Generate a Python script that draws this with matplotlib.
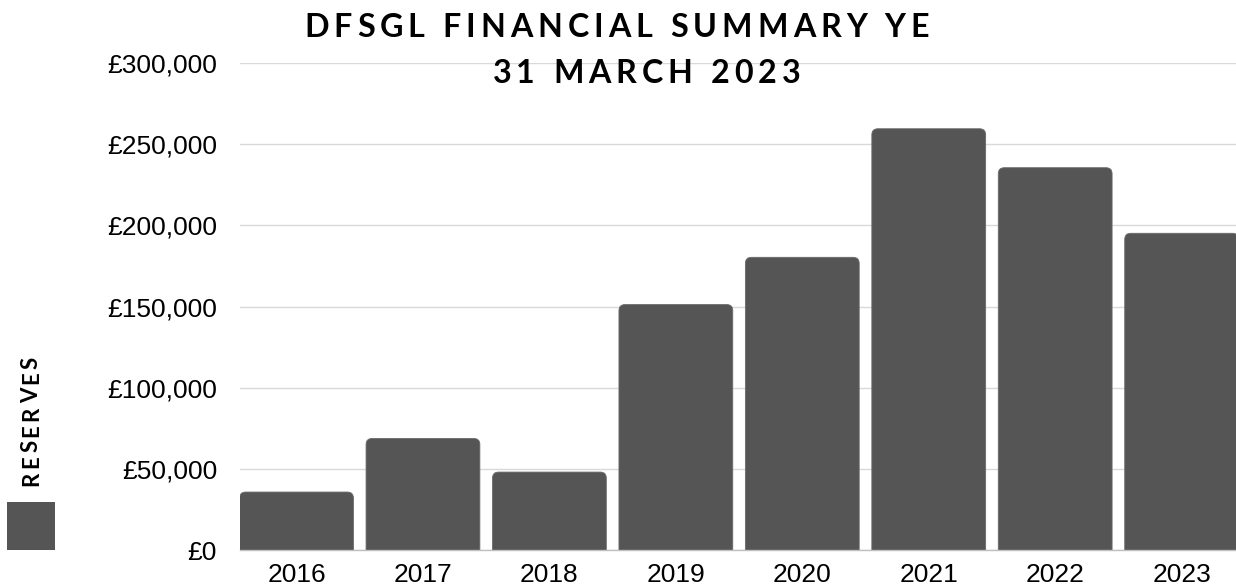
"""
DFSGL financial summary - reserves per year-end, bar chart.
"""

import matplotlib
matplotlib.use('Agg')
import matplotlib.pyplot as plt
from matplotlib.patches import FancyBboxPatch, Rectangle
from matplotlib.font_manager import FontProperties, findfont, get_font
from matplotlib.ticker import FuncFormatter

# data
years = ['2016', '2017', '2018', '2019', '2020', '2021', '2022', '2023']
reserves = [35700, 68700, 48000, 151200, 180300, 259500, 235500, 195100]
y_ticks = [0, 50000, 100000, 150000, 200000, 250000, 300000]

title_lines = ['DFSGL FINANCIAL SUMMARY YE', '31 MARCH 2023']
legend_label = 'RESERVES'

W, H, DPI = 1236, 588, 100
BAR_COLOR = '#555555'
GRID_COLOR = '#d9d9d9'


def spaced_text(fig, s, x, y, size, tracking, rotation=0, color='#000000'):
    """Draw letter-spaced bold Lato text centred on (x, y) pixels (y = baseline,
    measured from the bottom). For rotation=90 the text runs upward."""
    fp = FontProperties(family='Lato', weight='bold', size=size)
    font = get_font(findfont(fp))
    font.set_size(size, DPI)
    advances = [font.load_char(ord(c)).linearHoriAdvance / 65536 for c in s]
    gap = tracking * size * DPI / 72
    total = sum(advances) + gap * (len(s) - 1)
    pos = (y if rotation else x) - total / 2
    for c, a in zip(s, advances):
        if rotation:
            # centre each glyph on its advance, avoids bearing jitter when rotated
            fig.text(x / W, (pos + a / 2) / H, c, fontproperties=fp,
                     color=color, rotation=rotation, rotation_mode='anchor',
                     ha='center', va='baseline')
        else:
            fig.text(pos / W, y / H, c, fontproperties=fp, color=color,
                     ha='left', va='baseline')
        pos += a + gap


fig = plt.figure(figsize=(W / DPI, H / DPI), dpi=DPI)
ax = fig.add_axes([240 / W, 38 / H, 996 / W, 487 / H])

x = list(range(len(years)))
bars = ax.bar(x, reserves, width=0.9, color=BAR_COLOR)

ax.set_xlim(-0.447, 7.43)
ax.set_ylim(0, 300000)

# rounded tops: swap each rectangle for a rounded patch that dips below 0
fig.canvas.draw()
bbox = ax.get_window_extent()
x_per_px = (ax.get_xlim()[1] - ax.get_xlim()[0]) / bbox.width
y_per_px = (ax.get_ylim()[1] - ax.get_ylim()[0]) / bbox.height
radius_px = 6
for rect in bars:
    rect.set_visible(False)
    rx, rw, rh = rect.get_x(), rect.get_width(), rect.get_height()
    dip = 3 * radius_px * y_per_px
    patch = FancyBboxPatch(
        (rx, -dip), rw, rh + dip,
        boxstyle=f"round,pad=0,rounding_size={radius_px * x_per_px}",
        mutation_aspect=y_per_px / x_per_px,
        facecolor=BAR_COLOR, edgecolor='#6a6a6a', linewidth=0.6, zorder=2
    )
    ax.add_patch(patch)

ax.set_yticks(y_ticks)
ax.yaxis.set_major_formatter(FuncFormatter(lambda v, _: f"£{v:,.0f}"))
ax.set_xticks(x)
ax.set_xticklabels(years)

for lbl in ax.get_xticklabels() + ax.get_yticklabels():
    lbl.set_fontfamily('Liberation Sans')
    lbl.set_fontsize(19)
    lbl.set_color('#000000')

ax.tick_params(axis='y', length=0, pad=16.5)
ax.tick_params(axis='x', length=0, pad=9.5)
ax.grid(True, axis='y', color=GRID_COLOR, linewidth=1.0)
ax.set_axisbelow(True)
for side in ['left', 'right', 'top']:
    ax.spines[side].set_visible(False)
ax.spines['bottom'].set_color('#bfbfbf')
ax.spines['bottom'].set_linewidth(1.0)

# title (two letter-spaced lines)
spaced_text(fig, title_lines[0], 616.5, H - 37, 23.2, 0.155)
spaced_text(fig, title_lines[1], 646.5, H - 83, 23.2, 0.155)

# legend on the left: square patch with rotated label above it
fig.patches.append(Rectangle((7 / W, 38 / H), 48 / W, 48 / H,
                             transform=fig.transFigure, facecolor=BAR_COLOR,
                             edgecolor='none'))
spaced_text(fig, legend_label, 37.8, H - 421, 16, 0.145, rotation=90)

fig.savefig('out.png', dpi=DPI)
